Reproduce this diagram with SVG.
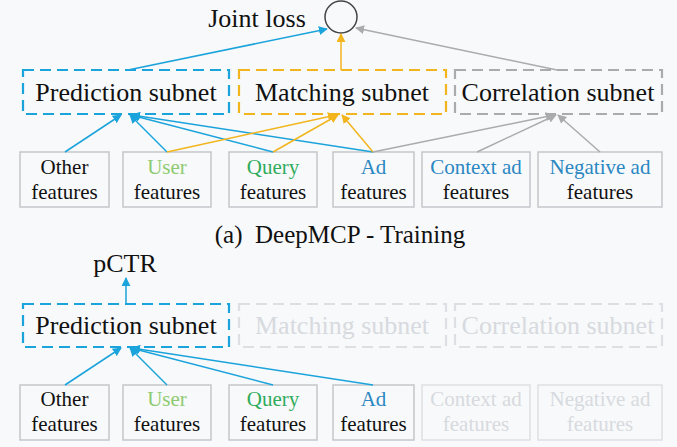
<svg xmlns="http://www.w3.org/2000/svg" width="677" height="447" viewBox="0 0 677 447" font-family="Liberation Serif, DejaVu Serif, serif">
<style>
text{font-family:'Liberation Serif','DejaVu Serif',serif;text-anchor:middle;fill:#111}
.sub{font-size:26px}
.ft{font-size:21px}
.box{fill:none;stroke:#c3c7cc;stroke-width:1.5}
.dash{fill:none;stroke-width:2.2;stroke-dasharray:11 6}
.b{stroke:#1ba3dc}
.y{stroke:#f2b51e}
.g{stroke:#a9abad}
.fd{stroke:#dcdfe3}
.lb{stroke:#1ba3dc;stroke-width:1.5;fill:none}
.ly{stroke:#f2b51e;stroke-width:1.5;fill:none}
.lg{stroke:#a9abad;stroke-width:1.5;fill:none}
.faded{fill:#d7dadf}
.blue{fill:#2b87c2}
</style>
<defs>
<marker id="ab" viewBox="0 0 10 10" refX="9" refY="5" markerWidth="6" markerHeight="6" orient="auto"><path d="M0,0L10,5L0,10z" fill="#1ba3dc"/></marker>
<marker id="ay" viewBox="0 0 10 10" refX="9" refY="5" markerWidth="6" markerHeight="6" orient="auto"><path d="M0,0L10,5L0,10z" fill="#f2b51e"/></marker>
<marker id="ag" viewBox="0 0 10 10" refX="9" refY="5" markerWidth="6" markerHeight="6" orient="auto"><path d="M0,0L10,5L0,10z" fill="#a9abad"/></marker>
</defs>
<rect width="677" height="447" fill="#f8f9fa"/>

<g id="joint-loss">
<text x="257" y="27" style="font-size:26px">Joint loss</text>
<circle cx="341" cy="17" r="16" fill="none" stroke="#444" stroke-width="1.5"/>
</g>

<g id="prediction-top"><rect class="dash b" x="23" y="70" width="206" height="44"/><text class="sub" x="126" y="101">Prediction subnet</text></g>
<g id="matching-top"><rect class="dash y" x="239" y="70" width="207" height="44"/><text class="sub" x="342" y="101">Matching subnet</text></g>
<g id="correlation-top"><rect class="dash g" x="455" y="70" width="207" height="44"/><text class="sub" x="558" y="101">Correlation subnet</text></g>

<g id="other-top"><rect class="box" x="20" y="152" width="89" height="55"/><text class="ft" x="64.5" y="174">Other</text><text class="ft" x="64.5" y="199">features</text></g>
<g id="user-top"><rect class="box" x="123" y="152" width="88" height="55"/><text class="ft" x="167" y="174" style="fill:#8dcb72">User</text><text class="ft" x="167" y="199">features</text></g>
<g id="query-top"><rect class="box" x="229" y="152" width="88" height="55"/><text class="ft" x="273" y="174" style="fill:#2fab5c">Query</text><text class="ft" x="273" y="199">features</text></g>
<g id="ad-top"><rect class="box" x="333" y="152" width="81" height="55"/><text class="ft blue" x="373.5" y="174">Ad</text><text class="ft" x="373.5" y="199">features</text></g>
<g id="context-top"><rect class="box" x="422" y="152" width="108" height="55"/><text class="ft blue" x="476" y="174">Context ad</text><text class="ft" x="476" y="199">features</text></g>
<g id="negative-top"><rect class="box" x="538" y="152" width="124" height="55"/><text class="ft blue" x="600" y="174">Negative ad</text><text class="ft" x="600" y="199">features</text></g>

<g id="connectors-top">
<line class="lb" x1="128" y1="70" x2="327" y2="29" marker-end="url(#ab)"/>
<line class="ly" x1="341" y1="70" x2="341" y2="34" marker-end="url(#ay)"/>
<line class="lg" x1="557" y1="70" x2="356" y2="28" marker-end="url(#ag)"/>
<line class="lb" x1="65" y1="152" x2="121" y2="115" marker-end="url(#ab)"/>
<line class="lb" x1="167" y1="152" x2="130" y2="115" marker-end="url(#ab)"/>
<line class="lb" x1="273" y1="152" x2="131" y2="115" marker-end="url(#ab)"/>
<line class="lb" x1="373" y1="152" x2="132" y2="115" marker-end="url(#ab)"/>
<line class="ly" x1="167" y1="152" x2="336" y2="115" marker-end="url(#ay)"/>
<line class="ly" x1="273" y1="152" x2="338" y2="115" marker-end="url(#ay)"/>
<line class="ly" x1="373" y1="152" x2="342" y2="115" marker-end="url(#ay)"/>
<line class="lg" x1="373" y1="152" x2="554" y2="115" marker-end="url(#ag)"/>
<line class="lg" x1="477" y1="152" x2="556" y2="115" marker-end="url(#ag)"/>
<line class="lg" x1="600" y1="152" x2="558" y2="115" marker-end="url(#ag)"/>
</g>

<text id="caption" x="340" y="243" style="font-size:25px" xml:space="preserve">(a)  DeepMCP - Training</text>

<g id="pctr"><text x="125" y="272" style="font-size:26px">pCTR</text></g>
<g id="prediction-bot"><rect class="dash b" x="23" y="304" width="206" height="43"/><text class="sub" x="126" y="334">Prediction subnet</text></g>
<g id="matching-bot"><rect class="dash fd" x="239" y="304" width="207" height="43"/><text class="sub faded" x="342" y="334">Matching subnet</text></g>
<g id="correlation-bot"><rect class="dash fd" x="455" y="304" width="207" height="43"/><text class="sub faded" x="558" y="334">Correlation subnet</text></g>

<g id="other-bot"><rect class="box" x="20" y="385" width="89" height="55"/><text class="ft" x="64.5" y="406">Other</text><text class="ft" x="64.5" y="431">features</text></g>
<g id="user-bot"><rect class="box" x="123" y="385" width="88" height="55"/><text class="ft" x="167" y="406" style="fill:#8dcb72">User</text><text class="ft" x="167" y="431">features</text></g>
<g id="query-bot"><rect class="box" x="229" y="385" width="88" height="55"/><text class="ft" x="273" y="406" style="fill:#2fab5c">Query</text><text class="ft" x="273" y="431">features</text></g>
<g id="ad-bot"><rect class="box" x="333" y="385" width="81" height="55"/><text class="ft blue" x="373.5" y="406">Ad</text><text class="ft" x="373.5" y="431">features</text></g>
<g id="context-bot"><rect class="box" x="422" y="385" width="108" height="55" style="stroke:#dde0e4"/><text class="ft faded" x="476" y="406">Context ad</text><text class="ft faded" x="476" y="431">features</text></g>
<g id="negative-bot"><rect class="box" x="538" y="385" width="124" height="55" style="stroke:#dde0e4"/><text class="ft faded" x="600" y="406">Negative ad</text><text class="ft faded" x="600" y="431">features</text></g>

<g id="connectors-bot">
<line class="lb" x1="126" y1="304" x2="126" y2="278" marker-end="url(#ab)"/>
<line class="lb" x1="65" y1="385" x2="121" y2="348" marker-end="url(#ab)"/>
<line class="lb" x1="167" y1="385" x2="130" y2="348" marker-end="url(#ab)"/>
<line class="lb" x1="273" y1="385" x2="131" y2="348" marker-end="url(#ab)"/>
<line class="lb" x1="373" y1="385" x2="132" y2="348" marker-end="url(#ab)"/>
</g>
</svg>
